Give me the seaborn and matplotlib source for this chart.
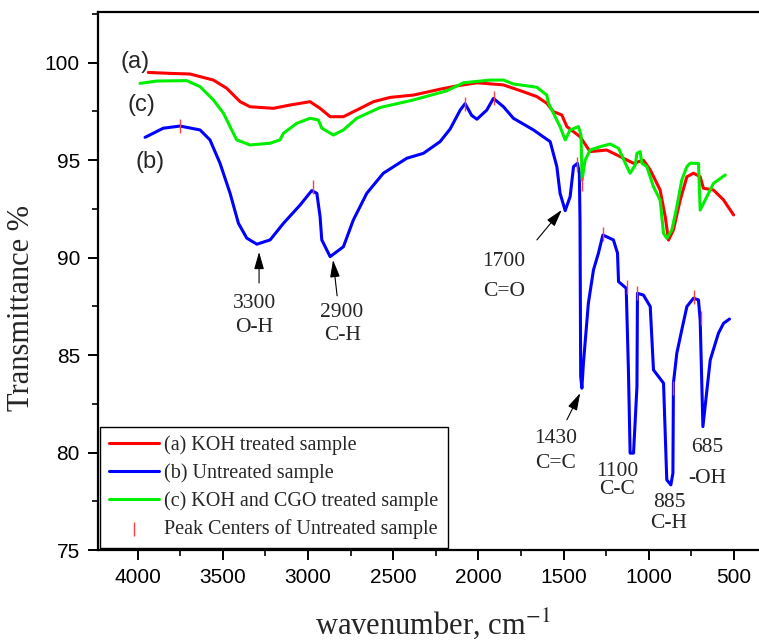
import numpy as np
import pandas as pd
import seaborn as sns
import matplotlib.pyplot as plt
from matplotlib.ticker import MultipleLocator


# --- FTIR spectra: KOH treated / untreated / KOH + CGO treated ---

# (a) KOH treated sample
wn_a = [3937, 3800, 3692, 3555, 3477, 3398, 3340, 3203, 3105, 2988, 2929, 2870,
        2792, 2714, 2616, 2518, 2381, 2225, 2127, 2009, 1853, 1736, 1657, 1599,
        1560, 1511, 1481, 1403, 1345, 1247, 1168, 1090, 1032, 992, 934, 904, 885,
        856, 816, 777, 738, 699, 680, 621, 562, 503]
t_a = [99.5, 99.45, 99.42, 99.11, 98.69, 98.0, 97.74, 97.66, 97.83, 98.0, 97.66, 97.23,
       97.23, 97.57, 98.0, 98.22, 98.34, 98.64, 98.81, 98.97, 98.86, 98.51, 98.26, 97.92,
       97.49, 97.32, 96.72, 96.2, 95.44, 95.52, 95.18, 94.84, 95.0, 94.5, 93.47, 92.1, 90.9,
       91.42, 92.96, 94.15, 94.33, 94.15, 93.56, 93.47, 92.96, 92.19]

# (b) Untreated sample
wn_b = [3956, 3849, 3751, 3633, 3575, 3516, 3457, 3408, 3359, 3300, 3222, 3144,
        3046, 2978, 2948, 2929, 2919, 2870, 2792, 2734, 2655, 2558, 2420, 2323,
        2225, 2166, 2107, 2078, 2040, 2009, 1951, 1912, 1853, 1795, 1677, 1579,
        1540, 1521, 1491, 1462, 1442, 1419, 1408, 1404, 1400, 1393, 1384, 1355,
        1325, 1296, 1270, 1208, 1184, 1178, 1133, 1120, 1110, 1090, 1070, 1067,
        1032, 992, 973, 914, 895, 871, 859, 856, 836, 807, 777, 738, 709, 699,
        683, 640, 592, 562, 527]
t_b = [96.17, 96.64, 96.75, 96.55, 96.04, 94.84, 93.3, 91.76, 91.0, 90.69, 90.91, 91.76,
       92.7, 93.44, 93.3, 92.1, 90.91, 90.05, 90.56, 91.93, 93.3, 94.33, 95.1, 95.35,
       95.95, 96.6, 97.57, 97.9, 97.3, 97.1, 97.57, 98.17, 97.74, 97.15, 96.55, 95.95,
       94.67, 93.3, 92.41, 93.13, 94.67, 94.84, 94.33, 91.9, 83.9, 83.3, 84.58, 87.66,
       89.37, 90.23, 91.16, 90.91, 90.23, 88.77, 88.43, 84.24, 79.97, 79.97, 83.38, 88.17,
       88.08, 87.49, 84.24, 83.56, 78.6, 78.34, 78.94, 83.56, 85.1, 86.29, 87.49, 87.92, 87.83, 86.8,
       81.33, 84.75, 86.12, 86.63, 86.85]

# (c) KOH and CGO treated sample
wn_c = [3985, 3887, 3711, 3633, 3555, 3496, 3457, 3418, 3340, 3222, 3164, 3144,
        3066, 2988, 2939, 2919, 2851, 2792, 2714, 2577, 2381, 2185, 2088, 1931,
        1853, 1795, 1657, 1599, 1589, 1560, 1521, 1491, 1462, 1413, 1398, 1392,
        1374, 1345, 1286, 1227, 1178, 1129, 1110, 1080, 1070, 1051, 1041, 1012,
        973, 934, 914, 895, 865, 836, 807, 777, 758, 709, 699, 650, 621, 552]
t_c = [98.94, 99.06, 99.08, 98.77, 98.09, 97.41, 96.72, 96.04, 95.78, 95.87, 96.04, 96.38,
       96.89, 97.15, 97.06, 96.64, 96.29, 96.55, 97.15, 97.7, 98.09, 98.56, 98.97, 99.11,
       99.11, 98.91, 98.74, 98.34, 97.92, 97.41, 96.72, 96.04, 96.55, 96.72, 96.29, 93.98,
       95.0, 95.52, 95.69, 95.83, 95.61, 94.67, 94.33, 94.75, 95.35, 95.44, 94.84, 94.67,
       93.64, 92.96, 91.25, 90.99, 91.42, 92.61, 93.98, 94.67, 94.84, 94.84, 92.44, 93.3, 93.81, 94.24]

# peak centers of untreated sample
peak_wn = [3750, 2972, 2078, 1908, 1419, 1395, 1270, 1129, 1067, 856, 738, 697]
peak_t = [96.75, 93.6, 97.9, 98.2, 94.8, 93.8, 91.2, 88.5, 88.2, 83.3, 88.0, 86.9]

# band annotations
band_labels = ['3300', '2900', '1700', '1430', '1100', '885', '685']
group_labels = ['O-H', 'C-H', 'C=O', 'C=C', 'C-C', 'C-H', '-OH']


sns.set_theme(style='ticks')
plt.rcParams['font.family'] = ['Liberation Sans', 'DejaVu Sans']
plt.rcParams['mathtext.fontset'] = 'stix'
serif = ['Liberation Serif', 'DejaVu Serif']

fig = plt.figure(figsize=(7.59, 6.43), dpi=100)
ax = fig.add_axes([0.1291, 0.1446, 0.883, 0.8367])

df_a = pd.DataFrame({'wn': wn_a, 'T': t_a})
df_b = pd.DataFrame({'wn': wn_b, 'T': t_b})
df_c = pd.DataFrame({'wn': wn_c, 'T': t_c})

sns.lineplot(data=df_a, x='wn', y='T', color='#ff0000', lw=2.2, estimator=None,
             sort=False, label='(a) KOH treated sample', ax=ax)
sns.lineplot(data=df_b, x='wn', y='T', color='#0000ff', lw=2.2, estimator=None,
             sort=False, label='(b) Untreated sample', ax=ax)
sns.lineplot(data=df_c, x='wn', y='T', color='#00ee00', lw=2.2, estimator=None,
             sort=False, label='(c) KOH and CGO treated sample', ax=ax)
sns.scatterplot(x=peak_wn, y=peak_t, marker='|', s=110, color='#ff4040', linewidth=1,
                label='Peak Centers of Untreated sample', ax=ax, zorder=5)

ax.set_xlim(4232, 300)
ax.set_ylim(75, 102.6)
ax.xaxis.set_major_locator(MultipleLocator(500))
ax.xaxis.set_minor_locator(MultipleLocator(250))
ax.yaxis.set_major_locator(MultipleLocator(5))
ax.yaxis.set_minor_locator(MultipleLocator(2.5))
ax.tick_params(which='major', direction='out', length=7, width=1.4, labelsize=15,
               pad=6, colors='black')
ax.tick_params(which='minor', direction='out', length=4, width=1.4)
for s in ax.spines.values():
    s.set_linewidth(1.6)
    s.set_color('black')

ax.set_xlabel('wavenumber, cm$^{-1}$', fontsize=22, family=serif)
ax.set_ylabel('Transmittance %', fontsize=22, family=serif)
ax.xaxis.set_label_coords(0.5, -0.105)
ax.yaxis.set_label_coords(-0.092, 0.45)

# curve tags
ax.text(4015, 100.05, '(a)', fontsize=17, ha='center', va='center')
ax.text(3975, 97.83, '(c)', fontsize=17, ha='center', va='center')
ax.text(3927, 94.92, '(b)', fontsize=17, ha='center', va='center')

# band labels
text_pos = [(3316, 87.67, 86.4), (2800, 87.16, 86.03), (1849, 89.8, 88.26),
            (1545, 80.74, 79.46), (1185, 79.03, 78.12), (882, 77.44, 76.38),
            (660, 80.28, 78.69)]
for lab, grp, (x, y1, y2) in zip(band_labels, group_labels, text_pos):
    ax.text(x, y1, lab, fontsize=15.5, family=serif, ha='center', va='center')
    ax.text(x, y2, grp, fontsize=15.5, family=serif, ha='center', va='center')

arrows = [((3287, 90.29), (3287, 88.7)), ((2853, 89.88), (2829, 88.04)),
          ((1511, 92.45), (1657, 90.91)), ((1403, 83.05), (1481, 81.68))]
for tip, tail in arrows:
    ax.annotate('', xy=tip, xytext=tail,
                arrowprops=dict(arrowstyle='-|>,head_length=0.7,head_width=0.2',
                                color='black', lw=0.8, mutation_scale=15,
                                shrinkA=0, shrinkB=0))

leg = ax.legend(loc='lower left', bbox_to_anchor=(0, 0), borderaxespad=0.1,
                prop={'family': serif, 'size': 14.5}, frameon=True, fancybox=False,
                framealpha=1, edgecolor='black', handlelength=2.5, handletextpad=0.25,
                borderpad=0.45, labelspacing=0.4)
leg.get_frame().set_linewidth(1.0)

fig.savefig('out.png', dpi=100)
